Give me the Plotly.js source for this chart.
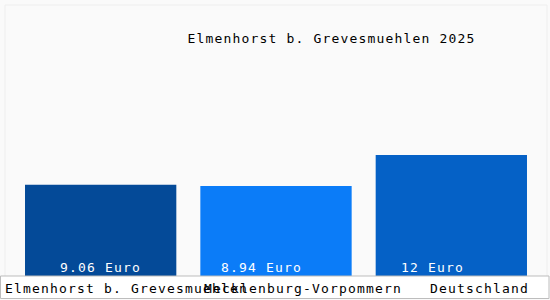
<!DOCTYPE html>
<html>
<head>
<meta charset="utf-8">
<script src="https://cdn.plot.ly/plotly-3.0.1.min.js"></script>
<style>
html,body{margin:0;padding:0;background:#fafafa;}
text{letter-spacing:1.17px;}
</style>
</head>
<body>
<div id="chart" style="width:550px;height:300px;"></div>
<script>
const categories = ["Elmenhorst b. Grevesmuehlen", "Mecklenburg-Vorpommern", "Deutschland"];
const values = [9.06, 8.94, 12];
const valueLabels = ["9.06 Euro", "8.94 Euro", "12 Euro"];
const barColors = ["#044a98", "#0b7cf8", "#0561c6"];
const titleText = "Elmenhorst b. Grevesmuehlen 2025";

const W = 550, H = 300;
const M = {l: 13, r: 11, t: 30, b: 24};
const PW = W - M.l - M.r, PH = H - M.t - M.b;
const px = x => (x - M.l) / PW;          // pixel -> paper x
const py = y => (H - M.b - y) / PH;      // pixel -> paper y

const font = "DejaVu Sans Mono";
const valueShift = [-43, -57, -52];
const catShift = [-98, -74, -23];

const annotations = [];
categories.forEach((c, i) => {
  annotations.push({
    x: c, y: 0, xref: "x", yref: "y",
    text: valueLabels[i], showarrow: false,
    xanchor: "left", yanchor: "bottom", align: "left",
    xshift: valueShift[i], yshift: -1,
    font: {family: font, size: 13, color: "#ffffff"}
  });
  annotations.push({
    x: c, y: 0, xref: "x", yref: "paper",
    text: c, showarrow: false,
    xanchor: "left", yanchor: "top", align: "left",
    xshift: catShift[i], yshift: -3,
    font: {family: font, size: 13, color: "#000000"}
  });
});

const data = [{
  type: "bar",
  x: categories,
  y: values,
  marker: {color: barColors},
  hoverinfo: "none"
}];

const layout = {
  width: W, height: H,
  margin: {l: M.l, r: M.r, t: M.t, b: M.b, pad: 0},
  paper_bgcolor: "#fafafa",
  plot_bgcolor: "#fafafa",
  showlegend: false,
  bargap: 0.137,
  title: {
    text: titleText,
    x: 333 / W, xanchor: "center", xref: "paper",
    y: 1 - 38 / H, yanchor: "middle", yref: "container",
    font: {family: font, size: 13, color: "#000000"}
  },
  xaxis: {
    type: "category", range: [-0.5, categories.length - 0.5], autorange: false,
    showticklabels: false, showgrid: false, zeroline: false,
    showline: false, ticks: "", fixedrange: true
  },
  yaxis: {
    range: [0, PH / 10.08], autorange: false, showticklabels: false, showgrid: false,
    zeroline: false, showline: false, ticks: "", fixedrange: true
  },
  shapes: [
    {type: "rect", xref: "paper", yref: "paper", layer: "below",
     x0: px(5), x1: px(547), y0: py(295), y1: py(5),
     fillcolor: "rgba(0,0,0,0)", line: {color: "#eeeeee", width: 1}},
    {type: "rect", xref: "paper", yref: "paper", layer: "above",
     x0: px(0.5), x1: px(549), y0: py(298.5), y1: py(276),
     fillcolor: "#ffffff", line: {color: "#bdbdbd", width: 1}}
  ],
  annotations: annotations
};

Plotly.newPlot("chart", data, layout, {staticPlot: true, displayModeBar: false});
</script>
</body>
</html>
